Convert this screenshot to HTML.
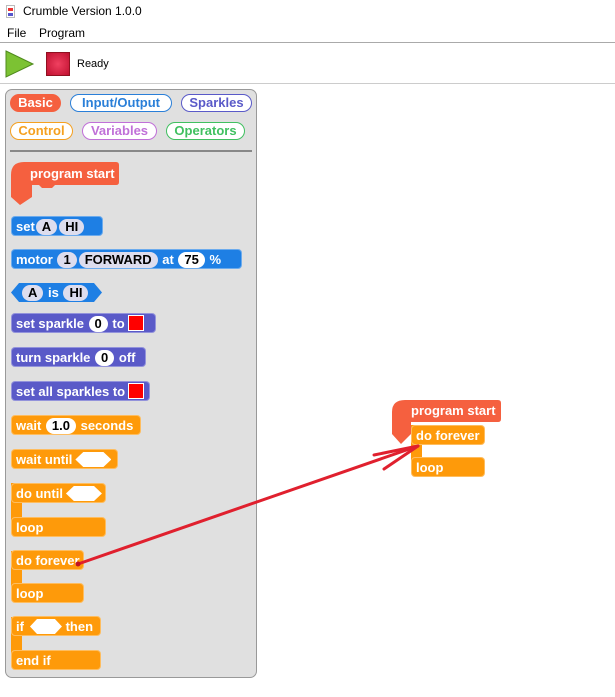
<!DOCTYPE html>
<html><head><meta charset="utf-8"><style>
*{margin:0;padding:0;box-sizing:border-box}
body{width:615px;height:697px;background:#fff;position:relative;overflow:hidden;font-family:"Liberation Sans","DejaVu Sans",sans-serif}
.a{position:absolute}
.t{font-size:12px;color:#000}
.b{position:absolute;height:20px;border-radius:4px;color:#fff;font-weight:bold;font-size:13px;line-height:19px;padding-left:4px;white-space:nowrap;border:1px solid rgba(255,255,255,.35)}
.bl{background:#1e7fe4}.pu{background:#5a5ac8}.or{background:#fe9a0a}
.p{display:inline-block;background:#fff;color:#000;border-radius:9px;padding:0 6px;height:16px;line-height:16px;margin:0 1px;vertical-align:0}
.pg{background:#dde;}
.sq{display:inline-block;width:16px;height:16px;background:#f00;border:1px solid #fff;vertical-align:-3px;margin-left:3px}
.tab{position:absolute;height:18px;border-radius:9px;border:1.5px solid;font-weight:bold;font-size:13px;line-height:15px;text-align:center;background:#fff}
.hex{display:inline-block;width:36px;height:15px;background:#fff;clip-path:polygon(22% 0,78% 0,100% 50%,78% 100%,22% 100%,0 50%);vertical-align:-3px;margin-left:3px}
</style></head><body>
<div class="a" style="left:6px;top:5px;width:9px;height:13px;border:1px solid #bbb;background:#fff"><div style="margin:2px 1px;height:3px;background:#e33"></div><div style="margin:0 1px;height:3px;background:#55c"></div></div>
<div class="a t" style="left:23px;top:4px">Crumble Version 1.0.0</div>
<div class="a t" style="left:7px;top:26px">File</div>
<div class="a t" style="left:39px;top:26px">Program</div>
<div class="a" style="left:0;top:42px;width:615px;height:1px;background:#aaa"></div>
<svg class="a" style="left:5px;top:50px" width="30" height="28"><polygon points="1,1 28,14 1,27" fill="#7cc233" stroke="#4f8a1d"/></svg>
<div class="a" style="left:46px;top:52px;width:24px;height:24px;background:radial-gradient(#f04060,#c01030);border:1px solid #901020"></div>
<div class="a t" style="left:77px;top:58px;font-size:11px">Ready</div>
<div class="a" style="left:0;top:83px;width:615px;height:1px;background:#ccc"></div>

<div class="a" style="left:5px;top:89px;width:252px;height:589px;background:#e0e0e0;border:1px solid #999;border-radius:7px"></div>
<div class="tab" style="left:10px;top:94px;width:51px;background:#f5603f;border-color:#f5603f;color:#fff">Basic</div>
<div class="tab" style="left:70px;top:94px;width:102px;border-color:#2a7fd8;color:#2a7fd8">Input/Output</div>
<div class="tab" style="left:181px;top:94px;width:71px;border-color:#5a5ac8;color:#5a5ac8">Sparkles</div>
<div class="tab" style="left:10px;top:122px;width:63px;border-color:#f5a020;color:#f5a020">Control</div>
<div class="tab" style="left:82px;top:122px;width:75px;border-color:#c070d8;color:#c070d8">Variables</div>
<div class="tab" style="left:166px;top:122px;width:79px;border-color:#40c060;color:#40c060">Operators</div>
<div class="a" style="left:10px;top:150px;width:242px;height:2px;background:#888"></div>

<svg class="a" style="left:0;top:0" width="615" height="697">
<path d="M11,175 Q11,162 24,162 L116,162 Q119,162 119,165 L119,182 Q119,185 116,185 L55,185 L52,188 L42,188 L39,185 L32,185 L32,197 L20,205 L11,197 Z" fill="#f5603f"/>
<path d="M392,412 Q392,400 405,400 L498,400 Q501,400 501,403 L501,419 Q501,422 498,422 L411,422 L411,434 L401,444 L392,434 Z" fill="#f5603f"/>
</svg>
<div class="a" style="left:30px;top:166px;color:#fff;font-weight:bold;font-size:13px">program start</div>
<div class="a" style="left:411px;top:403px;color:#fff;font-weight:bold;font-size:13px">program start</div>

<div class="b bl" style="left:11px;top:216px;width:92px">set<span class="p pg">A</span><span class="p pg">HI</span></div>
<div class="b bl" style="left:11px;top:249px;width:231px">motor <span class="p pg">1</span><span class="p pg">FORWARD</span> at <span class="p">75</span> %</div>
<div class="b bl" style="left:11px;top:283px;width:91px;height:19px;line-height:19px;border-radius:0;border:0;padding-left:10px;clip-path:polygon(8px 0,calc(100% - 8px) 0,100% 50%,calc(100% - 8px) 100%,8px 100%,0 50%)"><span class="p pg">A</span> is <span class="p pg">HI</span></div>
<div class="b pu" style="left:11px;top:313px;width:145px">set sparkle <span class="p">0</span> to<span class="sq"></span></div>
<div class="b pu" style="left:11px;top:347px;width:135px">turn sparkle <span class="p">0</span> off</div>
<div class="b pu" style="left:11px;top:381px;width:139px">set all sparkles to<span class="sq"></span></div>
<div class="b or" style="left:11px;top:415px;width:130px">wait <span class="p">1.0</span> seconds</div>
<div class="b or" style="left:11px;top:449px;width:107px">wait until<span class="hex"></span></div>

<div class="a or" style="left:11px;top:483px;width:11px;height:40px;background:#fe9a0a"></div>
<div class="b or" style="left:11px;top:483px;width:95px">do until<span class="hex"></span></div>
<div class="b or" style="left:11px;top:517px;width:95px">loop</div>

<div class="a" style="left:11px;top:551px;width:11px;height:40px;background:#fe9a0a"></div>
<div class="b or" style="left:11px;top:550px;width:73px">do forever</div>
<div class="b or" style="left:11px;top:583px;width:73px">loop</div>

<div class="a" style="left:11px;top:617px;width:11px;height:40px;background:#fe9a0a"></div>
<div class="b or" style="left:11px;top:616px;width:90px">if<span class="hex" style="margin-left:6px;width:32px"></span> then</div>
<div class="b or" style="left:11px;top:650px;width:90px">end if</div>

<div class="a" style="left:411px;top:425px;width:11px;height:40px;background:#fe9a0a"></div>
<div class="b or" style="left:411px;top:425px;width:74px">do forever</div>
<div class="b or" style="left:411px;top:457px;width:74px">loop</div>

<svg class="a" style="left:0;top:0" width="615" height="697">
<g stroke="#e0202e" stroke-width="3" fill="none" stroke-linecap="round">
<line x1="78" y1="564" x2="418" y2="446"/>
<line x1="374" y1="455" x2="418" y2="446"/>
<line x1="384" y1="469" x2="418" y2="446"/>
</g>
<circle cx="78" cy="564" r="2.5" fill="#c01020"/>
</svg>
</body></html>
